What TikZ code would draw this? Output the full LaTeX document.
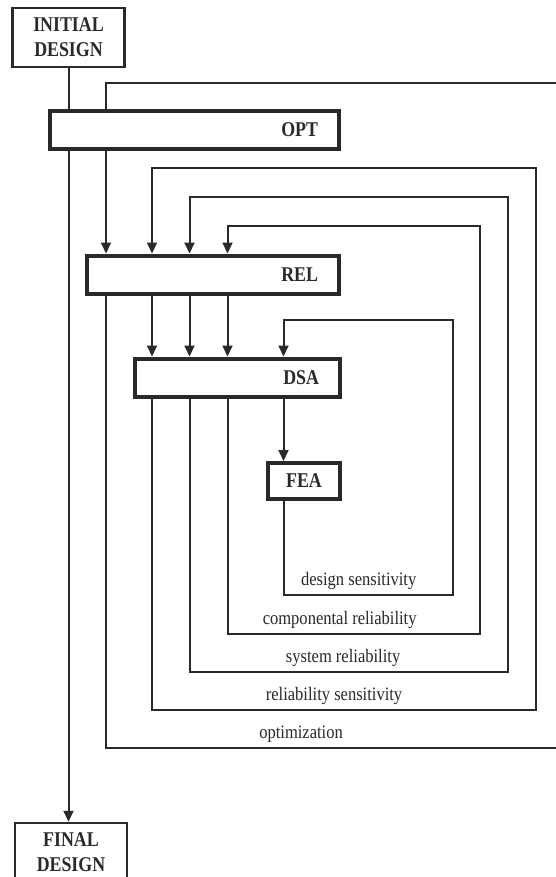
\documentclass[tikz,border=0pt]{standalone}
\usepackage{fontspec}
\setmainfont{Liberation Serif}
\newfontfamily\labfont[FakeStretch=0.87]{Liberation Serif}
\newfontfamily\boxfont[FakeStretch=0.85]{Liberation Serif}
\usetikzlibrary{arrows.meta}
\definecolor{ink}{gray}{0.16}
\begin{document}
\begin{tikzpicture}[x=1pt,y=-1pt,
  conn/.style={draw=ink, line width=2pt},
  arr/.style={-{Triangle[length=11pt,width=10pt]}},
  endbox/.style={draw=ink, fill=white, text=ink, line width=2.5pt, minimum width=112pt,
    minimum height=59pt, inner sep=0pt, align=center,
    font={\boxfont\bfseries\fontsize{21}{25}\selectfont}},
  mainbox/.style={draw=ink, fill=white, text=ink, line width=4pt, minimum height=38pt,
    inner xsep=21pt, inner ysep=0pt, align=right,
    font={\boxfont\bfseries\fontsize{21}{24}\selectfont}},
  looplab/.style={anchor=base, yshift=9.5pt, inner sep=0pt, text=ink,
    font={\labfont\fontsize{19}{22}\selectfont}}
]
\useasboundingbox (0,0) rectangle (555,877);
\fill[white] (0,0) rectangle (555,877);

% nodes
\node[endbox] (init) at (68.5,37.5) {INITIAL\\DESIGN};
\node[mainbox, minimum width=289pt, text width=247pt] (opt) at (194.5,130) {OPT};
\node[mainbox, minimum width=252pt, text width=210pt] (rel) at (213,274.5) {REL};
\node[mainbox, minimum width=205pt, text width=163pt] (dsa) at (237.5,377.5) {DSA};
\node[mainbox, minimum width=72pt, minimum height=36pt, inner xsep=0pt, align=center] (fea) at (304,481) {FEA};
\node[endbox] (final) at (71,852.5) {FINAL\\DESIGN};

% main line
\draw[conn] (init) -- (opt.north -| init);
\draw[conn,arr] (opt.south -| init) -- (final.north -| init);

% optimization loop
\draw[conn,arr] (opt.south -| 106,0) -- (rel.north -| 106,0);
\draw[conn] (rel.south -| 106,0) -- (106,748)
  -- node[looplab,pos=0.403]{optimization} (590,748)
  -- (590,83) -- (106,83) -- (opt.north -| 106,0);

% reliability sensitivity loop
\draw[conn,arr] (rel.south -| 152,0) -- (dsa.north -| 152,0);
\draw[conn,arr] (dsa.south -| 152,0) -- (152,710)
  -- node[looplab,pos=0.474]{reliability sensitivity} (536,710)
  -- (536,168) -- (152,168) -- (rel.north -| 152,0);

% system reliability loop
\draw[conn,arr] (rel.south -| 189.5,0) -- (dsa.north -| 189.5,0);
\draw[conn,arr] (dsa.south -| 189.5,0) -- (189.5,672)
  -- node[looplab,pos=0.483]{system reliability} (507.5,672)
  -- (507.5,197) -- (189.5,197) -- (rel.north -| 189.5,0);

% componental reliability loop
\draw[conn,arr] (rel.south -| 227.5,0) -- (dsa.north -| 227.5,0);
\draw[conn,arr] (dsa.south -| 227.5,0) -- (227.5,634)
  -- node[looplab,pos=0.445]{componental reliability} (479.5,634)
  -- (479.5,226.5) -- (227.5,226.5) -- (rel.north -| 227.5,0);

% design sensitivity loop
\draw[conn,arr] (dsa.south -| 283.5,0) -- (fea.north -| 283.5,0);
\draw[conn,arr] (fea.south -| 283.5,0) -- (283.5,595)
  -- node[looplab,pos=0.445]{design sensitivity} (452.5,595)
  -- (452.5,320) -- (283.5,320) -- (dsa.north -| 283.5,0);
\end{tikzpicture}
\end{document}
